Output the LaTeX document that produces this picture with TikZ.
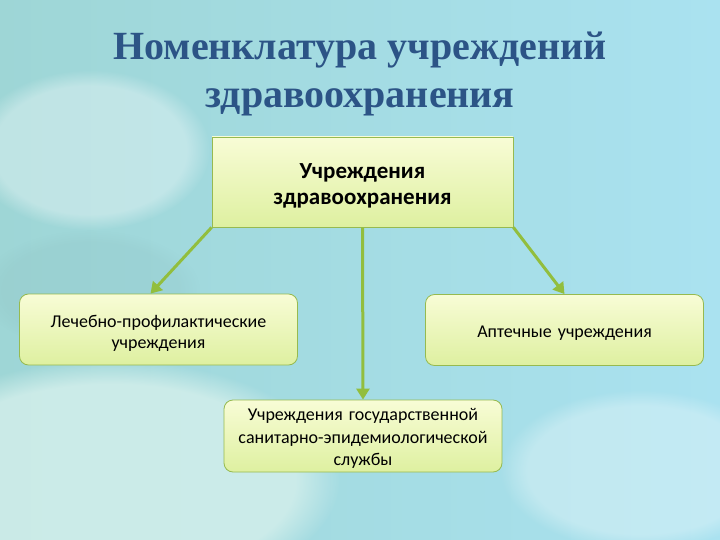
\documentclass[tikz,border=0pt]{standalone}
\usepackage{fontspec}
\setmainfont{Liberation Serif}
\newfontfamily\boxfont{Carlito}
\usetikzlibrary{arrows.meta,shadings,fadings}

\definecolor{bgblue}{RGB}{170,226,240}
\definecolor{bgteal}{RGB}{158,214,214}
\definecolor{bglight}{RGB}{214,240,236}
\definecolor{titleblue}{RGB}{44,84,134}
\definecolor{boxtop}{RGB}{248,252,214}
\definecolor{boxbot}{RGB}{222,240,160}
\definecolor{boxline}{RGB}{150,186,80}
\definecolor{arrowgreen}{RGB}{146,190,62}

\tikzset{
  unitbox/.style={draw=boxline, line width=0.8pt, top color=boxtop, bottom color=boxbot,
    align=center, inner sep=2pt, font=\boxfont},
  subbox/.style={unitbox, rounded corners=9pt, minimum width=278pt, minimum height=71pt,
    text width=270pt, font=\boxfont\fontsize{18}{21}\selectfont},
  lower/.style={execute at begin node=\rule{0pt}{#1}},
  arr/.style={arrowgreen, line width=3pt, -{Triangle[width=13pt,length=11pt]}},
  heading/.style={font=\bfseries\fontsize{40}{48}\selectfont, align=center},
  blob/.style={path fading=circle with fuzzy edge 20 percent}
}

\begin{document}
\begin{tikzpicture}[x=1pt,y=-1pt]
   % background
   \useasboundingbox (0,0) rectangle (720,540);
   \clip (0,0) rectangle (720,540);
   \shade[left color=bgteal, right color=bgblue] (0,0) rectangle (720,540);
   \fill[bglight, opacity=0.8, blob] (110,480) ellipse (230 and 120);
   \fill[white, opacity=0.35, blob] (90,150) ellipse (120 and 80);
   \fill[bgteal!80!black, opacity=0.12, blob] (90,290) ellipse (110 and 60);
   \fill[white, opacity=0.3, blob] (640,470) ellipse (140 and 80);

   % title
   \node[heading, text=titleblue] (title) at (360,74) {Номенклатура учреждений\\здравоохранения};

   % boxes
   \node[unitbox, lower=23pt, minimum width=301pt, minimum height=90pt, text width=290pt,
         font=\boxfont\bfseries\fontsize{23}{26}\selectfont] (inst) at (362.5,182) {Учреждения\\здравоохранения};
   \node[subbox, lower=20pt] (treat) at (158.5,329.5) {Лечебно-профилактические\\учреждения};
   \node[subbox, lower=17pt] (pharm) at (564.5,330) {Аптечные учреждения};
   \node[subbox, lower=17pt, minimum height=72pt, font=\boxfont\fontsize{18}{22.5}\selectfont] (sanit) at (363,436)
        {Учреждения государственной\\санитарно-эпидемиологической\\службы};

   % arrows
   \draw[arr] (inst.south west) -- ([xshift=-8pt]treat.north);
   \draw[arr] (inst.south east) -- (pharm.north);
   \draw[arr] (inst.south) -- (sanit.north);
\end{tikzpicture}
\end{document}
